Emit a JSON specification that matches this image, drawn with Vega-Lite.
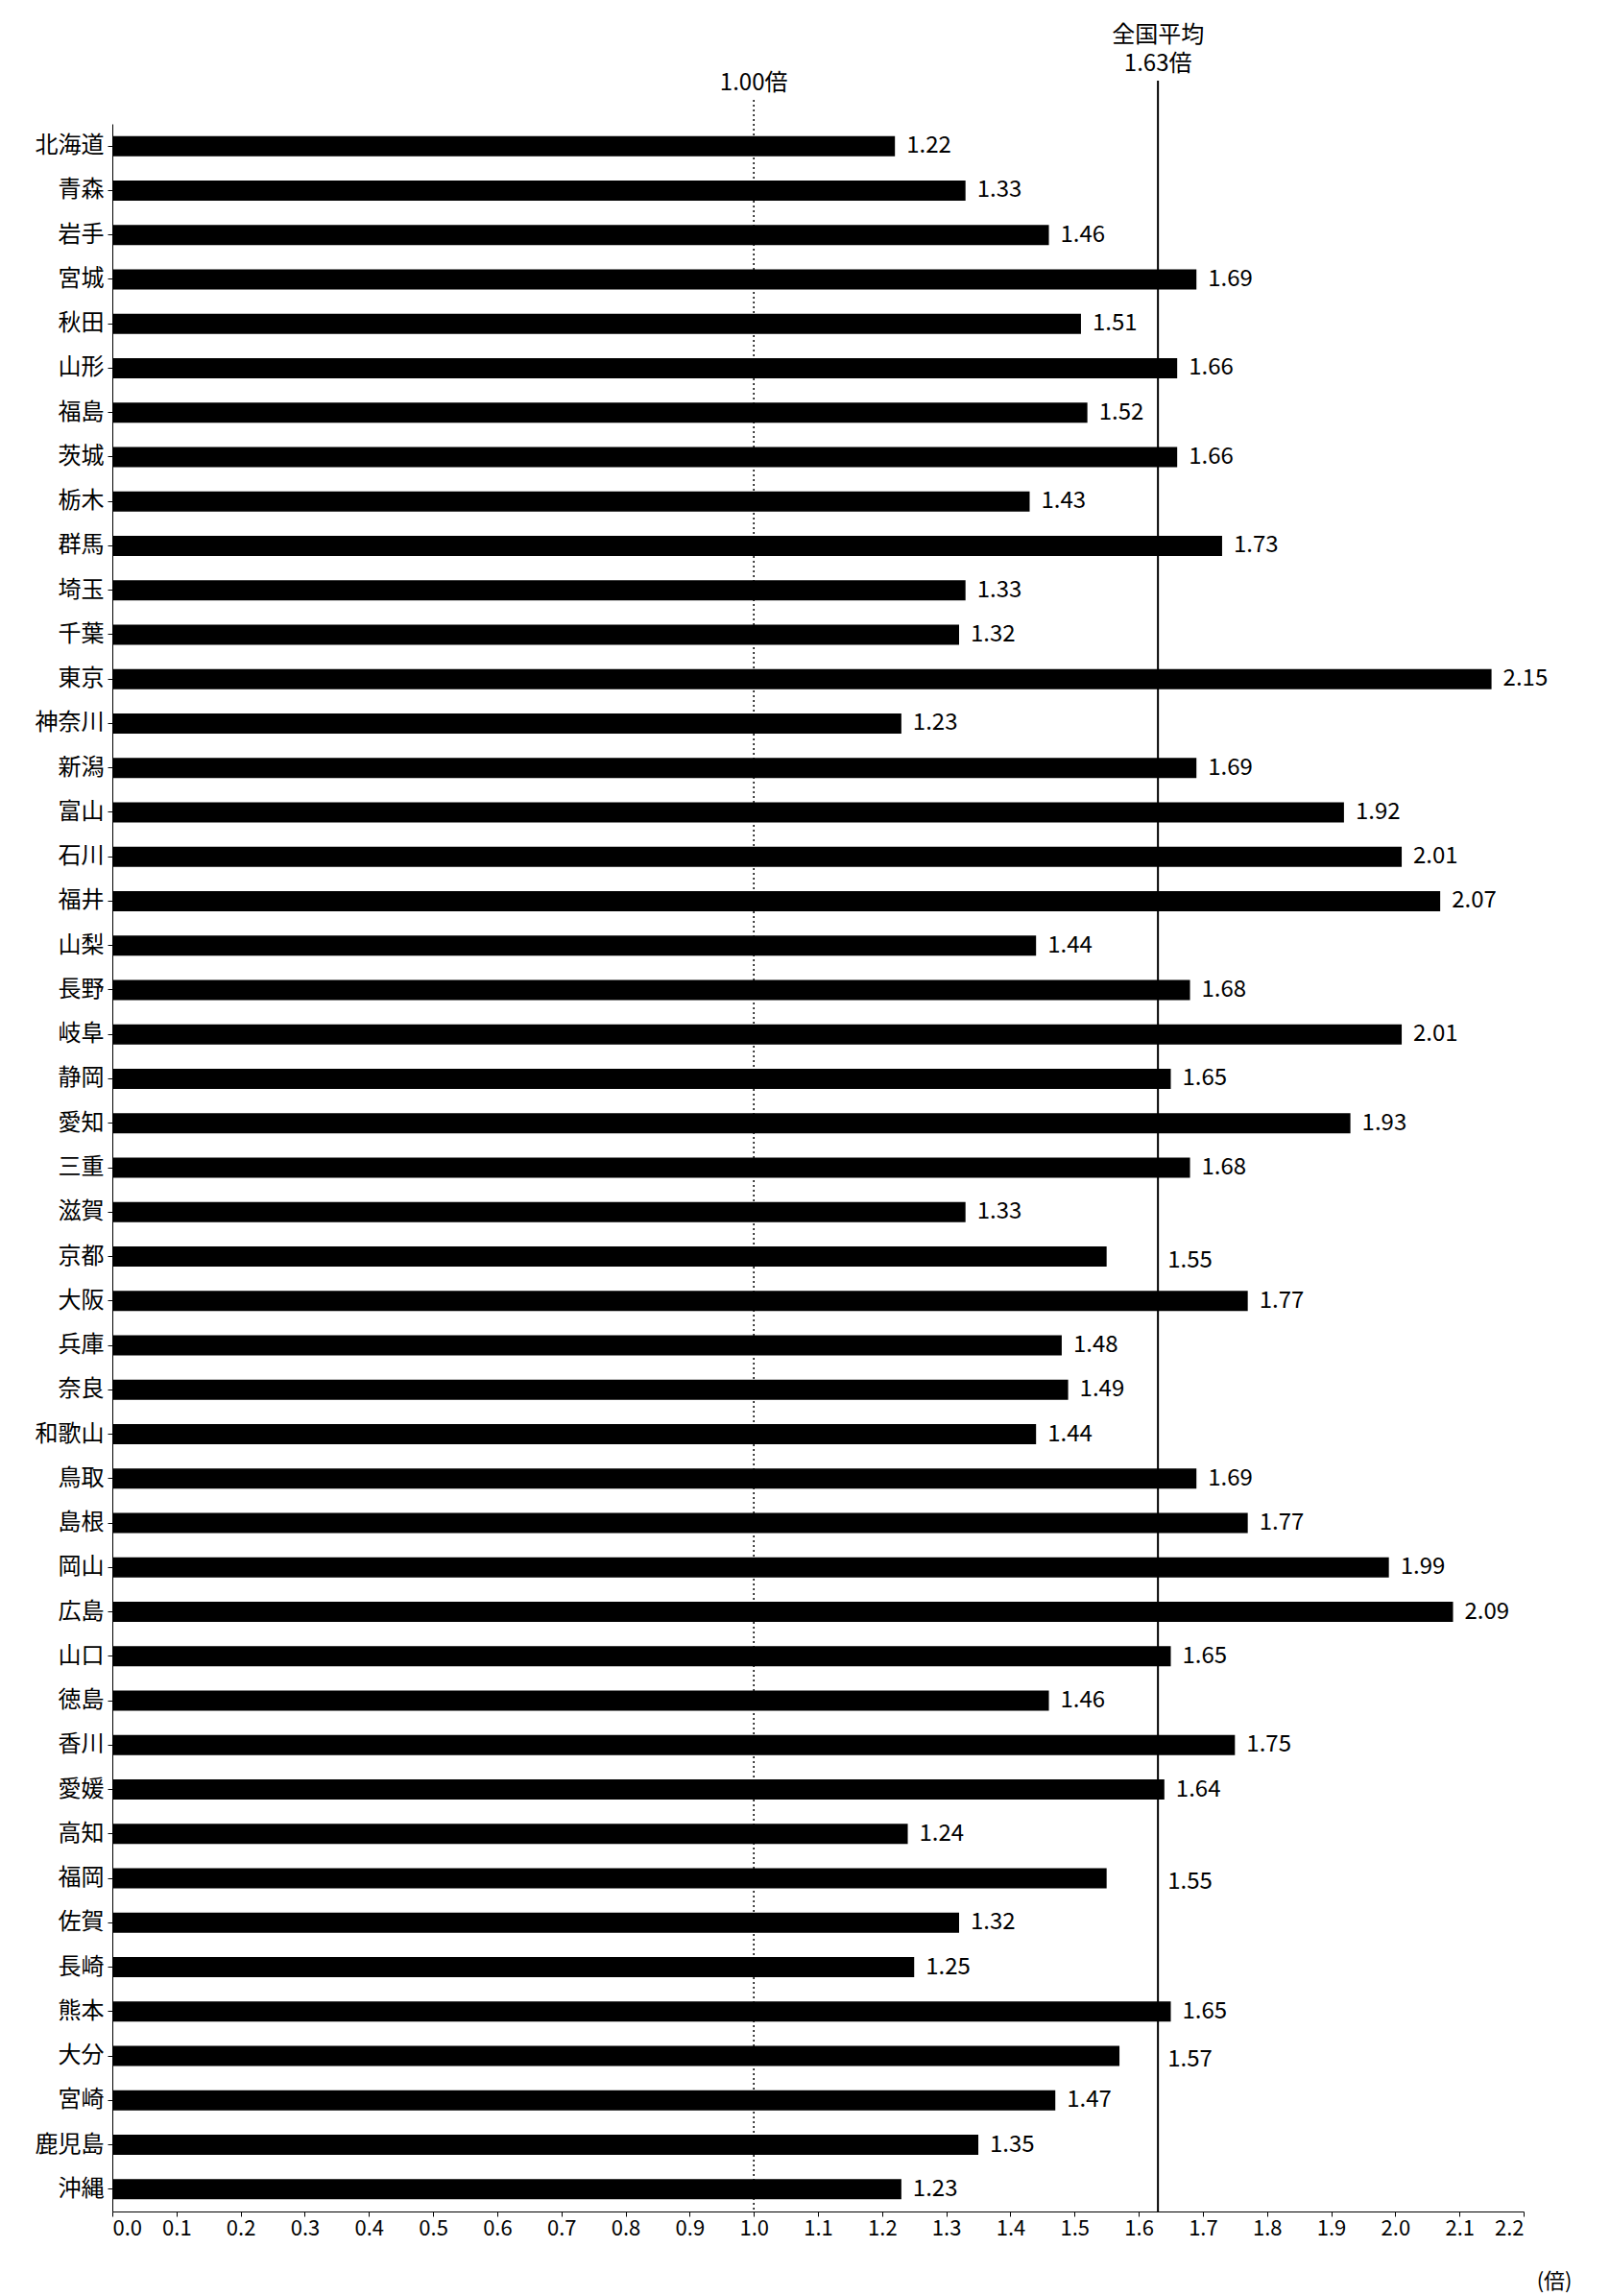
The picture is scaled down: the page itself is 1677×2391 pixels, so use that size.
{
 "$schema": "https://vega.github.io/schema/vega-lite/v6.json",
 "width": 1470,
 "height": 2174,
 "autosize": {"type": "none"},
 "padding": {"left": 117, "top": 129, "right": 90, "bottom": 88},
 "background": "white",
 "config": {"font": "Noto Sans CJK JP", "view": {"stroke": null}},
 "data": {"values": [
  {"p":"北海道","v":1.22},{"p":"青森","v":1.33},{"p":"岩手","v":1.46},{"p":"宮城","v":1.69},
  {"p":"秋田","v":1.51},{"p":"山形","v":1.66},{"p":"福島","v":1.52},{"p":"茨城","v":1.66},
  {"p":"栃木","v":1.43},{"p":"群馬","v":1.73},{"p":"埼玉","v":1.33},{"p":"千葉","v":1.32},
  {"p":"東京","v":2.15},{"p":"神奈川","v":1.23},{"p":"新潟","v":1.69},{"p":"富山","v":1.92},
  {"p":"石川","v":2.01},{"p":"福井","v":2.07},{"p":"山梨","v":1.44},{"p":"長野","v":1.68},
  {"p":"岐阜","v":2.01},{"p":"静岡","v":1.65},{"p":"愛知","v":1.93},{"p":"三重","v":1.68},
  {"p":"滋賀","v":1.33},{"p":"京都","v":1.55},{"p":"大阪","v":1.77},{"p":"兵庫","v":1.48},
  {"p":"奈良","v":1.49},{"p":"和歌山","v":1.44},{"p":"鳥取","v":1.69},{"p":"島根","v":1.77},
  {"p":"岡山","v":1.99},{"p":"広島","v":2.09},{"p":"山口","v":1.65},{"p":"徳島","v":1.46},
  {"p":"香川","v":1.75},{"p":"愛媛","v":1.64},{"p":"高知","v":1.24},{"p":"福岡","v":1.55},
  {"p":"佐賀","v":1.32},{"p":"長崎","v":1.25},{"p":"熊本","v":1.65},{"p":"大分","v":1.57},
  {"p":"宮崎","v":1.47},{"p":"鹿児島","v":1.35},{"p":"沖縄","v":1.23}
 ]},
 "layer": [
  {"mark": {"type": "bar", "color": "black", "size": 21},
   "encoding": {
    "y": {"field": "p", "type": "nominal", "sort": null, "title": null,
          "axis": {"labelFontSize": 24, "labelColor": "black", "domainColor": "black", "tickColor": "black", "labelPadding": 4}},
    "x": {"field": "v", "type": "quantitative", "scale": {"domain": [0, 2.2]},
     "title": "(倍)",
     "axis": {"values": [0,0.1,0.2,0.3,0.4,0.5,0.6,0.7,0.8,0.9,1,1.1,1.2,1.3,1.4,1.5,1.6,1.7,1.8,1.9,2,2.1,2.2],
              "format": ".1f", "grid": false, "labelFontSize": 22, "labelColor": "black", "domainColor": "black", "tickColor": "black",
              "titleFontSize": 22, "titleFontWeight": "normal", "titleAlign": "right", "titleAnchor": null, "titleX": 1520, "titleY": 62}}}},
  {"transform": [{"filter": "datum.v < 1.54 || datum.v >= 1.63"}],
   "mark": {"type": "text", "align": "left", "dx": 12, "fontSize": 24, "color": "black"},
   "encoding": {"y": {"field": "p", "type": "nominal", "sort": null}, "x": {"field": "v", "type": "quantitative"}, "text": {"field": "v", "type": "quantitative", "format": ".2f"}}},
  {"transform": [{"filter": "datum.v >= 1.54 && datum.v < 1.63"}],
   "mark": {"type": "text", "align": "left", "dx": 10, "dy": 4, "fontSize": 24, "color": "black"},
   "encoding": {"y": {"field": "p", "type": "nominal", "sort": null}, "x": {"datum": 1.63}, "text": {"field": "v", "type": "quantitative", "format": ".2f"}}},
  {"data": {"values": [{"r": 1.0}]},
   "mark": {"type": "rule", "color": "black", "strokeDash": [2, 3], "strokeWidth": 1.5},
   "encoding": {"x": {"field": "r", "type": "quantitative"}, "y": {"value": -25}, "y2": {"value": 2174}}},
  {"data": {"values": [{"r": 1.63}]},
   "mark": {"type": "rule", "color": "black", "strokeWidth": 2},
   "encoding": {"x": {"field": "r", "type": "quantitative"}, "y": {"value": -45}, "y2": {"value": 2174}}},
  {"data": {"values": [{"r": 1.0}]},
   "mark": {"type": "text", "fontSize": 24, "color": "black", "baseline": "bottom", "dy": -30, "text": "1.00倍"},
   "encoding": {"x": {"field": "r", "type": "quantitative"}, "y": {"value": 0}}},
  {"data": {"values": [{"r": 1.63}]},
   "mark": {"type": "text", "fontSize": 24, "color": "black", "baseline": "bottom", "dy": -80, "lineHeight": 30, "text": ["全国平均", "1.63倍"]},
   "encoding": {"x": {"field": "r", "type": "quantitative"}, "y": {"value": 0}}}
 ]
}
